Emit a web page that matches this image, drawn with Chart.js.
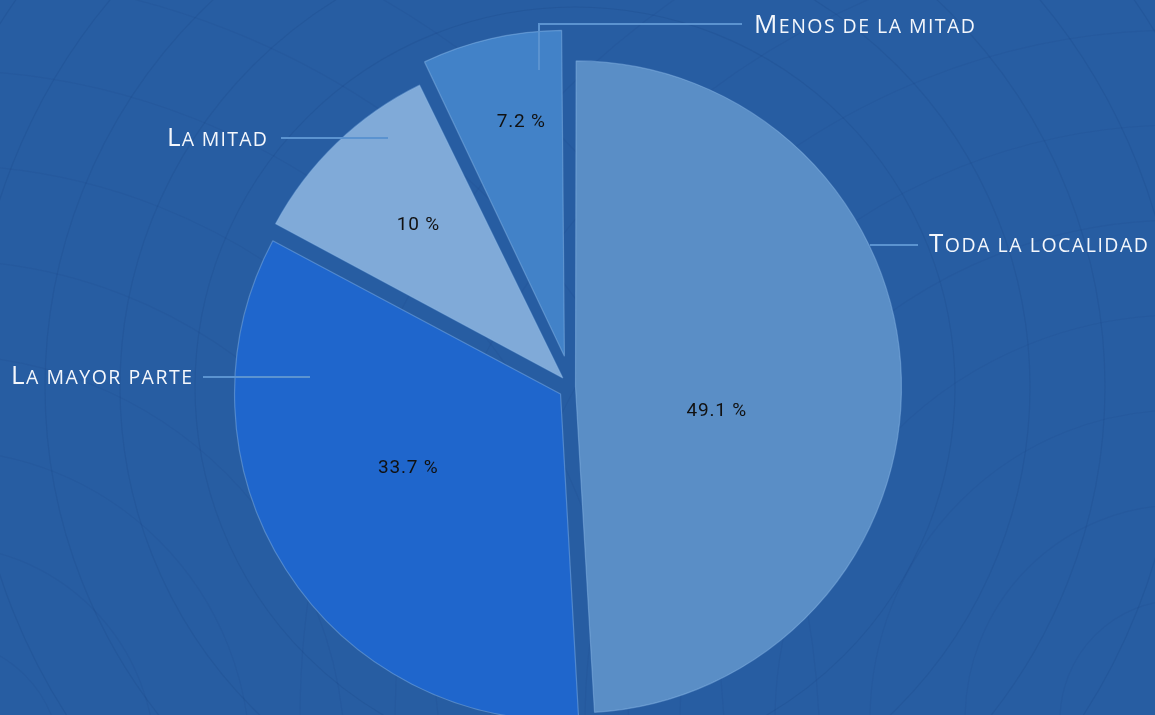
<!DOCTYPE html>
<html><head><meta charset="utf-8">
<script src="https://cdn.jsdelivr.net/npm/chart.js@4.4.1/dist/chart.umd.min.js"></script>
<style>
html,body{margin:0;padding:0;background:#275da2;overflow:hidden;}
#wrap{position:relative;width:1155px;height:715px;}
canvas{display:block;}
</style></head><body>
<div id="wrap"><canvas id="c" width="1155" height="715"></canvas></div>
<script>
const categories = ['Toda la localidad', 'La mayor parte', 'La mitad', 'Menos de la mitad'];
const values = [49.1, 33.7, 10, 7.2];
const valueLabels = ['49.1 %', '33.7 %', '10 %', '7.2 %'];

// style
const sliceColors = ['#5a8ec6', '#1f66cc', '#80aad8', '#4282c8'];
const sliceShift = [4, 13, 12.5, 31.5];       // desired displacement in px
const baseRadius = 326;
const labelPlace = [[0.44, 11.5], [0.52, 6.5], [0.645, 0.5], [0.73, 2.5]]; // radius frac, angle shift deg
const callouts = [
  {pts: [[870, 245], [918, 245]], x: 929, base: 252, w: 219},
  {pts: [[310, 377], [203, 377]], x: 11, base: 384, w: 181},
  {pts: [[388, 138], [281, 138]], x: 167, base: 146, w: 100},
  {pts: [[539, 70], [539, 24], [742, 24]], x: 754, base: 33, w: 221}
];

function fixOf(circ) { return 1 - Math.sin(Math.min(Math.PI, circ)); }

const bgPlugin = {
  id: 'bg',
  beforeDraw(chart) {
    const ctx = chart.ctx;
    ctx.save();
    ctx.fillStyle = '#275da2';
    ctx.fillRect(0, 0, chart.width, chart.height);
    ctx.strokeStyle = 'rgba(20,50,110,0.12)';
    ctx.lineWidth = 1.2;
    const cx = 575, cy = 387;
    for (let r = 380; r < 1200; r += 75) {
      ctx.beginPath(); ctx.arc(cx, cy, r, 0, Math.PI * 2); ctx.stroke();
    }
    ctx.strokeStyle = 'rgba(20,50,110,0.08)';
    for (let r = 120; r < 900; r += 95) {
      ctx.beginPath(); ctx.arc(-60, 760, r, 0, Math.PI * 2); ctx.stroke();
      ctx.beginPath(); ctx.arc(1180, 720, r, 0, Math.PI * 2); ctx.stroke();
    }
    ctx.restore();
  }
};

const radiusFix = {
  id: 'radiusFix',
  beforeDatasetsDraw(chart) {
    const meta = chart.getDatasetMeta(0);
    meta.data.forEach((arc, i) => {
      const off = (arc.options.offset || 0) / 4;
      arc.outerRadius = baseRadius - off * fixOf(arc.circumference);
    });
  }
};

function drawSmallCaps(ctx, text, x, base, targetW) {
  const big = 26, small = 19.5;
  const chars = [];
  for (let k = 0; k < text.length; k++) {
    const ch = text[k];
    const isUp = ch !== ch.toLowerCase();
    chars.push({c: ch.toUpperCase(), size: isUp ? big : small});
  }
  let nat = 0;
  chars.forEach(o => { ctx.font = '400 ' + o.size + 'px "Open Sans"'; o.w = ctx.measureText(o.c).width; nat += o.w; });
  const ls = (targetW - nat) / (chars.length - 1);
  let cx = x;
  chars.forEach(o => {
    ctx.font = '400 ' + o.size + 'px "Open Sans"';
    ctx.fillText(o.c, cx, base);
    cx += o.w + ls;
  });
}

const labelPlugin = {
  id: 'labels',
  afterDatasetsDraw(chart) {
    const ctx = chart.ctx;
    const meta = chart.getDatasetMeta(0);
    ctx.save();
    meta.data.forEach((arc, i) => {
      const off = (arc.options.offset || 0) / 4;
      const mid = (arc.startAngle + arc.endAngle) / 2;
      const cx = arc.x + Math.cos(mid) * off, cy = arc.y + Math.sin(mid) * off;
      const a = mid + labelPlace[i][1] * Math.PI / 180;
      const rr = baseRadius * labelPlace[i][0];
      ctx.fillStyle = '#111';
      ctx.font = '19px Roboto';
      try { ctx.letterSpacing = '0.8px'; } catch (e) {}
      ctx.textAlign = 'center';
      ctx.textBaseline = 'middle';
      ctx.fillText(valueLabels[i], cx + Math.cos(a) * rr, cy + Math.sin(a) * rr);
    });
    try { ctx.letterSpacing = '0px'; } catch (e) {}
    ctx.strokeStyle = '#5b93d0';
    ctx.lineWidth = 2;
    ctx.fillStyle = '#f4f7fc';
    ctx.textAlign = 'left';
    ctx.textBaseline = 'alphabetic';
    callouts.forEach((c, i) => {
      ctx.beginPath();
      c.pts.forEach((p, k) => k ? ctx.lineTo(p[0], p[1]) : ctx.moveTo(p[0], p[1]));
      ctx.stroke();
      drawSmallCaps(ctx, categories[i], c.x, c.base, c.w);
    });
    ctx.restore();
  }
};

new Chart(document.getElementById('c'), {
  type: 'pie',
  data: {
    labels: categories,
    datasets: [{
      data: values,
      backgroundColor: sliceColors,
      borderColor: 'rgba(150,195,240,0.4)',
      borderWidth: 1.2,
      offset: sliceShift.map(d => d * 4),
      radius: baseRadius,
      clip: false
    }]
  },
  options: {
    responsive: false,
    animation: false,
    radius: baseRadius,
    layout: {padding: {left: 0, right: 12, top: 59, bottom: 0}},
    plugins: {legend: {display: false}, tooltip: {enabled: false}}
  },
  plugins: [bgPlugin, radiusFix, labelPlugin]
});
</script>
</body></html>
